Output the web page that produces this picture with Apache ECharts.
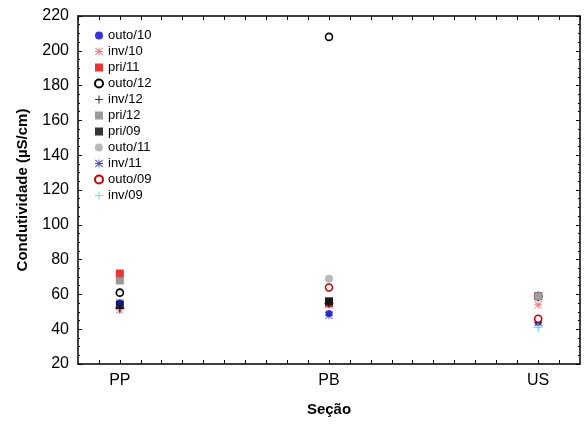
<!DOCTYPE html>
<html>
<head>
<meta charset="utf-8">
<script src="https://cdn.jsdelivr.net/npm/echarts@6/dist/echarts.min.js"></script>
<style>
  html, body { margin: 0; padding: 0; background: #fff; }
  #chart { width: 585px; height: 427px; }
</style>
</head>
<body>
<div id="chart"></div>
<script>
// seções (posição no eixo x: 10, 20, 30)
const sections = ['PP', 'PB', 'US']
const sectionX = [10, 20, 30]

// condutividade (µS/cm) por campanha, na ordem das seções
const outo10 = [55, 49, 44]
const inv10 = [51, 54, 54]
const pri11 = [72, 55, 59]
const outo12 = [61, 208, 59]
const inv12 = [52, 55, 59]
const pri12 = [68, 56, 59]
const pri09 = [54, 56, null]
const outo11 = [null, 69, 59]
const inv11 = [55, 48, 44]
const outo09 = [null, 64, 46]
const inv09 = [null, null, 41]

const yTicks = [20, 40, 60, 80, 100, 120, 140, 160, 180, 200, 220]

const PLUS = 'path://M4.3,0H5.7V10H4.3Z M0,4.3H10V5.7H0Z'
const STAR = 'path://M4.4,0H5.6V10H4.4Z M0,4.4H10V5.6H0Z M0.8,0L10,9.2L9.2,10L0,0.8Z M9.2,0L10,0.8L0.8,10L0,9.2Z'

const campaigns = [
  { name: 'outo/10', data: outo10, symbol: 'circle', size: 7, color: '#0000dd' },
  { name: 'inv/10', data: inv10, symbol: STAR, size: 8, color: '#e06060' },
  { name: 'pri/11', data: pri11, symbol: 'rect', size: 8, color: '#ee0000' },
  { name: 'outo/12', data: outo12, symbol: 'ring', size: 7, color: '#000000' },
  { name: 'inv/12', data: inv12, symbol: PLUS, size: 9, color: '#000000' },
  { name: 'pri/12', data: pri12, symbol: 'rect', size: 8, color: '#808080' },
  { name: 'pri/09', data: pri09, symbol: 'rect', size: 8, color: '#000000' },
  { name: 'outo/11', data: outo11, symbol: 'circle', size: 8, color: '#a8a8a8' },
  { name: 'inv/11', data: inv11, symbol: STAR, size: 8, color: '#2020b0' },
  { name: 'outo/09', data: outo09, symbol: 'ring', size: 7, color: '#cc0000' },
  { name: 'inv/09', data: inv09, symbol: PLUS, size: 9, color: '#40d8f0' },
]

const chart = echarts.init(document.getElementById('chart'))

const font = 'Arial, "Liberation Sans", sans-serif'
const axisLine = { show: true, lineStyle: { color: '#000', width: 1.5 } }

function xLabel(v) {
  const i = sectionX.indexOf(Math.round(v))
  return Math.abs(v - Math.round(v)) < 1e-6 && i >= 0 ? sections[i] : ''
}

const option = {
  animation: false,
  backgroundColor: '#fff',
  grid: { left: 78, right: 5, top: 16, bottom: 63 },
  legend: {
    orient: 'vertical',
    left: 89,
    top: 24,
    itemWidth: 8,
    itemHeight: 8,
    itemGap: 3,
    textStyle: { fontFamily: font, fontSize: 13, color: '#000' },
    data: campaigns.map(c => c.name),
  },
  xAxis: [
    {
      type: 'value', position: 'bottom', min: 8, max: 32, interval: 1,
      axisLine, splitLine: { show: false },
      axisTick: { inside: true, length: 4, lineStyle: { color: '#000' } },
      axisLabel: { formatter: xLabel, fontFamily: font, fontSize: 16, color: '#000', margin: 9, showMinLabel: false, showMaxLabel: false },
      name: 'Seção', nameLocation: 'middle', nameGap: 38,
      nameTextStyle: { fontFamily: font, fontSize: 15, fontWeight: 'bold', color: '#000' },
    },
    {
      type: 'value', position: 'top', min: 8, max: 32, interval: 1,
      axisLine, splitLine: { show: false },
      axisTick: { inside: true, length: 4, lineStyle: { color: '#000' } },
      axisLabel: { show: false },
    },
  ],
  yAxis: [
    {
      type: 'value', position: 'left', min: yTicks[0], max: yTicks[yTicks.length - 1], interval: 20,
      axisLine, splitLine: { show: false },
      axisTick: { inside: true, length: 4, lineStyle: { color: '#000' } },
      minorTick: { show: true, splitNumber: 4, length: 2, lineStyle: { color: '#000' } },
      axisLabel: { fontFamily: font, fontSize: 16, color: '#000', margin: 9 },
      name: 'Condutividade (µS/cm)', nameLocation: 'middle', nameGap: 48,
      nameTextStyle: { fontFamily: font, fontSize: 15, fontWeight: 'bold', color: '#000' },
    },
    {
      type: 'value', position: 'right', min: yTicks[0], max: yTicks[yTicks.length - 1], interval: 20,
      axisLine, splitLine: { show: false },
      axisTick: { inside: true, length: 4, lineStyle: { color: '#000' } },
      minorTick: { show: true, splitNumber: 4, length: 2, lineStyle: { color: '#000' } },
      axisLabel: { show: false },
    },
  ],
  series: campaigns.map(c => ({
    name: c.name,
    type: 'scatter',
    xAxisIndex: 0,
    yAxisIndex: 0,
    symbol: c.symbol === 'ring' ? 'circle' : c.symbol,
    symbolSize: c.size,
    itemStyle: c.symbol === 'ring'
      ? { color: '#ffffff', borderColor: c.color, borderWidth: 1.6, opacity: 1 }
      : { color: c.color },
    data: c.data.map((v, i) => (v == null ? null : [sectionX[i], v])).filter(d => d),
  })),
}

chart.setOption(option)
</script>
</body>
</html>
